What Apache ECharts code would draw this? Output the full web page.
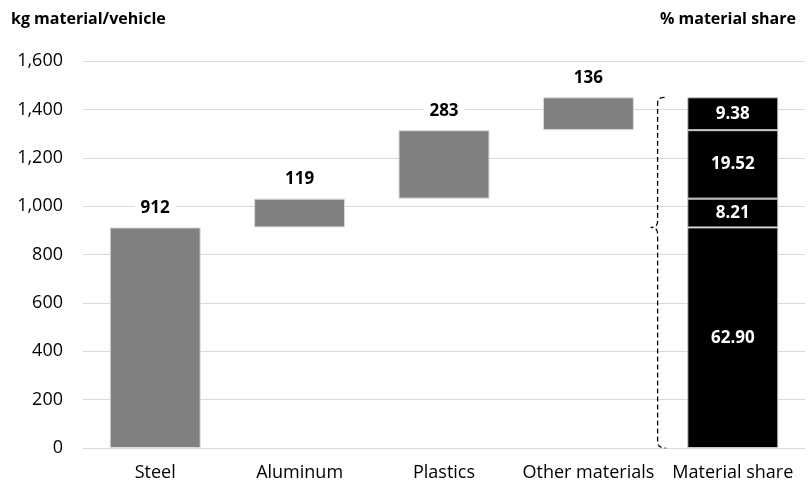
<!DOCTYPE html>
<html>
<head>
<meta charset="utf-8">
<script src="https://cdn.jsdelivr.net/npm/echarts@6/dist/echarts.min.js"></script>
<style>
  html, body { margin: 0; padding: 0; background: #fff; }
  #chart { width: 809px; height: 486px; }
</style>
</head>
<body>
<div id="chart"></div>
<script>
// Material categories and kg per vehicle
const categories = ['Steel', 'Aluminum', 'Plastics', 'Other materials', 'Material share'];
const materialKg = [912, 119, 283, 136];
// Percent share of each material in the total
const materialShare = [62.90, 8.21, 19.52, 9.38];
const yTicks = { min: 0, max: 1600, interval: 200 };

const FONT = 'Open Sans';
const GRAY = '#808080';

// Waterfall offsets: each bar starts where the previous one ended
const offsets = [];
let running = 0;
materialKg.forEach(v => { offsets.push(running); running += v; });
const totalKg = running;

const baseData = offsets.map((o, i) => (i === 0 ? '-' : o)).concat(['-']);
const stepData = materialKg.concat(['-']);

const series = [
  {
    name: 'base', type: 'bar', stack: 'all', silent: true,
    itemStyle: { color: 'transparent' },
    data: baseData
  },
  {
    name: 'kg', type: 'bar', stack: 'all', barWidth: '63%',
    itemStyle: { color: GRAY, borderColor: '#dcdcdc', borderWidth: 1 },
    label: {
      show: true, position: 'top', distance: 11,
      fontFamily: FONT, fontWeight: 'bold', fontSize: 17, color: '#000',
      backgroundColor: '#fff', padding: [0, 6],
      formatter: p => p.value
    },
    data: stepData
  }
];

// Share column: one stacked segment per material
materialKg.forEach((kg, i) => {
  const data = categories.map((c, j) => (j === 4 ? kg : '-'));
  series.push({
    name: 'share' + i, type: 'bar', stack: 'all',
    itemStyle: { color: '#000', borderColor: '#c8c8c8', borderWidth: 1 },
    label: {
      show: true, position: 'inside',
      fontFamily: FONT, fontWeight: 'bold', fontSize: 17, color: '#fff',
      formatter: () => materialShare[i].toFixed(2)
    },
    data: data
  });
});

// Dashed brace spanning the whole stacked column
series.push({
  type: 'custom', silent: true, z: 5,
  data: [[4, 0]],
  renderItem: function (params, api) {
    const bottom = api.coord([4, 0]);
    const top = api.coord([4, totalKg]);
    const mid = api.coord([4, materialKg[0]]);
    const band = api.size([1, 0])[0];
    const x = bottom[0] - band / 2 - 3;
    const yt = top[1], yb = bottom[1], ym = mid[1];
    const path =
      'M' + (x + 7) + ' ' + yt + ' Q' + x + ' ' + yt + ' ' + x + ' ' + (yt + 6) +
      ' L' + x + ' ' + (ym - 6) + ' Q' + x + ' ' + ym + ' ' + (x - 7) + ' ' + ym +
      ' Q' + x + ' ' + ym + ' ' + x + ' ' + (ym + 6) +
      ' L' + x + ' ' + (yb - 6) + ' Q' + x + ' ' + yb + ' ' + (x + 8) + ' ' + yb;
    return {
      type: 'path',
      shape: { pathData: path },
      style: { fill: null, stroke: '#000', lineWidth: 1.3, lineDash: [5, 3] }
    };
  }
});

const chart = echarts.init(document.getElementById('chart'), null, { renderer: 'canvas' });
chart.setOption({
  animation: false,
  backgroundColor: '#fff',
  grid: { left: 83, right: 4, top: 61, bottom: 38, containLabel: false },
  title: [
    { text: 'kg material/vehicle', left: 6, top: 6,
      textStyle: { fontFamily: FONT, fontWeight: 'bold', fontSize: 16, color: '#000' } },
    { text: '% material share', right: 8, top: 6,
      textStyle: { fontFamily: FONT, fontWeight: 'bold', fontSize: 16, color: '#000' } }
  ],
  xAxis: {
    type: 'category', data: categories,
    axisLine: { show: false }, axisTick: { show: false },
    axisLabel: { interval: 0, fontFamily: FONT, fontSize: 18, color: '#000', margin: 16 }
  },
  yAxis: {
    type: 'value', min: yTicks.min, max: yTicks.max, interval: yTicks.interval,
    axisLine: { show: false }, axisTick: { show: false },
    splitLine: { lineStyle: { color: '#d9d9d9', width: 1 } },
    axisLabel: {
      fontFamily: FONT, fontSize: 18, color: '#000', margin: 20,
      formatter: v => v.toLocaleString('en-US')
    }
  },
  series: series
});
</script>
</body>
</html>
